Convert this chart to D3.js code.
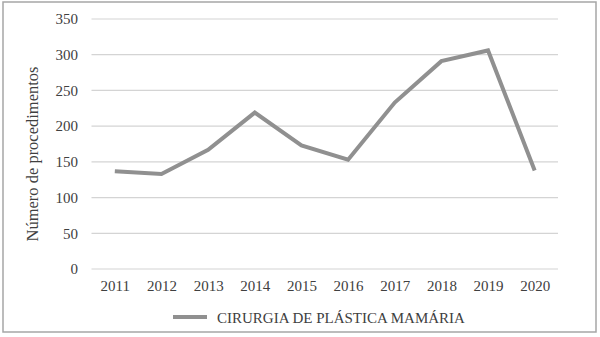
<!DOCTYPE html>
<html>
<head>
<meta charset="utf-8">
<script src="https://cdn.jsdelivr.net/npm/d3@7"></script>
<style>
  html, body { margin: 0; padding: 0; background: #fff; }
  svg { display: block; }
  text { font-family: "Liberation Serif", "Times New Roman", serif; fill: #404040; }
</style>
</head>
<body>
<script>
// Breast plastic surgery procedures per year
const years = ["2011", "2012", "2013", "2014", "2015", "2016", "2017", "2018", "2019", "2020"];
const procedures = [137, 133, 167, 219, 173, 153, 233, 291, 306, 138];
const yTicks = [0, 50, 100, 150, 200, 250, 300, 350];
const seriesName = "CIRURGIA DE PLÁSTICA MAMÁRIA";
const yTitle = "Número de procedimentos";

const W = 600, H = 337;
const plot = { left: 91.5, right: 558, top: 19, bottom: 269 };

const svg = d3.select("body").append("svg")
  .attr("width", W).attr("height", H);

// outer frame
svg.append("rect")
  .attr("x", 3).attr("y", 2)
  .attr("width", 593).attr("height", 330)
  .attr("fill", "#fff")
  .attr("stroke", "#a6a6a6")
  .attr("stroke-width", 1.5);

const x = d3.scalePoint()
  .domain(years)
  .range([plot.left, plot.right])
  .padding(0.5);

const y = d3.scaleLinear()
  .domain([0, 350])
  .range([plot.bottom, plot.top]);

// horizontal gridlines
svg.append("g")
  .selectAll("line")
  .data(yTicks)
  .join("line")
  .attr("x1", plot.left).attr("x2", plot.right)
  .attr("y1", d => y(d)).attr("y2", d => y(d))
  .attr("stroke", "#d4d4d4")
  .attr("stroke-width", 1.2);

// y axis labels
const yAxis = d3.axisLeft(y).tickValues(yTicks).tickSize(0).tickPadding(0);
svg.append("g")
  .attr("transform", `translate(${78},0)`)
  .call(yAxis)
  .call(g => g.select(".domain").remove())
  .call(g => g.selectAll("text")
    .attr("font-family", "Liberation Serif, Times New Roman, serif")
    .attr("font-size", 15)
    .attr("fill", "#404040"));

// x axis labels
const xAxis = d3.axisBottom(x).tickSize(0).tickPadding(0);
svg.append("g")
  .attr("transform", `translate(0,${280})`)
  .call(xAxis)
  .call(g => g.select(".domain").remove())
  .call(g => g.selectAll("text")
    .attr("font-family", "Liberation Serif, Times New Roman, serif")
    .attr("font-size", 15)
    .attr("fill", "#404040"));

// y axis title
svg.append("text")
  .attr("transform", `translate(${38},${154}) rotate(-90)`)
  .attr("text-anchor", "middle")
  .attr("font-size", 16.5)
  .text(yTitle);

// series line
const line = d3.line()
  .x((d, i) => x(years[i]))
  .y(d => y(d));

svg.append("path")
  .datum(procedures)
  .attr("d", line)
  .attr("fill", "none")
  .attr("stroke", "#909090")
  .attr("stroke-width", 4)
  .attr("stroke-linejoin", "miter");

// legend
const legend = svg.append("g").attr("transform", "translate(173,317)");
legend.append("line")
  .attr("x1", 0).attr("x2", 34)
  .attr("y1", 0).attr("y2", 0)
  .attr("stroke", "#909090")
  .attr("stroke-width", 4);
legend.append("text")
  .attr("x", 44).attr("y", 5.5)
  .attr("font-size", 15)
  .text(seriesName);
</script>
</body>
</html>
